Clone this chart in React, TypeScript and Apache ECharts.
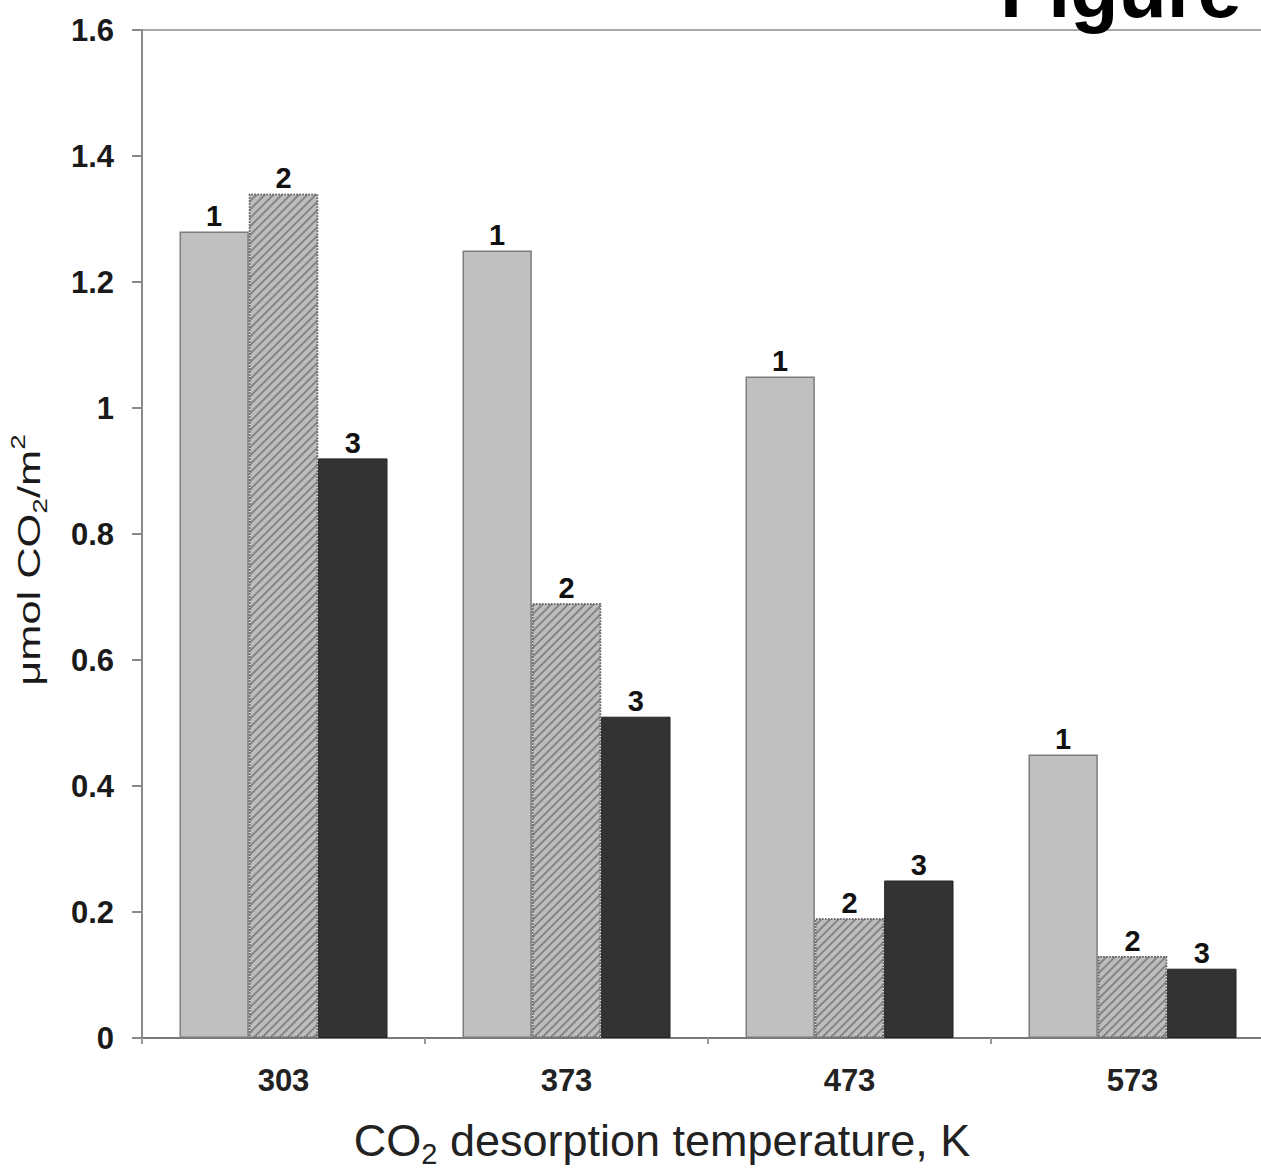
import React, { useEffect, useRef } from "react";
import * as echarts from "echarts";

const categories = ["303", "373", "473", "573"];
const series1 = [1.28, 1.25, 1.05, 0.45];
const series2 = [1.34, 0.69, 0.19, 0.13];
const series3 = [0.92, 0.51, 0.25, 0.11];
const seriesNames = ["1", "2", "3"];
const yTicks = { min: 0, max: 1.6, interval: 0.2 };

const FONT = "'Liberation Sans', Arial, Helvetica, sans-serif";

export default function App() {
  const ref = useRef<HTMLDivElement>(null);
  useEffect(() => {
    if (!ref.current) return;
    const chart = echarts.init(ref.current, undefined, { renderer: "svg" });
    const labelCfg = {
      show: true,
      position: "top",
      distance: 1,
      fontFamily: FONT,
      fontWeight: "bold",
      fontSize: 29,
      color: "#111",
    };
    chart.setOption({
      animation: false,
      backgroundColor: "#fff",
      grid: {
        left: 142,
        top: 30,
        width: 1132,
        height: 1008,
        show: true,
        borderColor: "#a8a8a8",
        borderWidth: 2,
        backgroundColor: "transparent",
      },
      xAxis: {
        type: "category",
        data: categories,
        axisLine: { lineStyle: { color: "#7a7a7a", width: 2 } },
        axisTick: { show: true, length: 6, lineStyle: { color: "#999", width: 2 } },
        axisLabel: {
          fontFamily: FONT,
          fontWeight: "bold",
          fontSize: 31,
          color: "#222",
          margin: 27,
        },
        splitLine: { show: false },
      },
      yAxis: {
        type: "value",
        min: yTicks.min,
        max: yTicks.max,
        interval: yTicks.interval,
        axisLine: { show: true, lineStyle: { color: "#8a8a8a", width: 2 } },
        axisTick: { show: true, length: 10, lineStyle: { color: "#8a8a8a", width: 2 } },
        axisLabel: {
          fontFamily: FONT,
          fontWeight: "bold",
          fontSize: 31,
          color: "#1a1a1a",
          margin: 28,
        },
        splitLine: { show: false },
      },
      series: [
        {
          name: seriesNames[0],
          type: "bar",
          data: series1,
          barGap: "0%",
          barCategoryGap: "26.5%",
          itemStyle: { color: "#c0c0c0", borderColor: "#7d7d7d", borderWidth: 1.5 },
          label: { ...labelCfg, formatter: seriesNames[0] },
        },
        {
          name: seriesNames[1],
          type: "bar",
          data: series2,
          barGap: "0%",
          barCategoryGap: "26.5%",
          itemStyle: {
            color: "#bdbdbd",
            borderColor: "#6a6a6a",
            borderWidth: 1.5,
            borderType: "dotted",
            decal: {
              symbol: "rect",
              symbolSize: 1,
              dashArrayX: [1, 0],
              dashArrayY: [2, 3.5],
              rotation: -Math.PI / 4,
              color: "rgba(95,95,95,0.6)",
            },
          },
          label: { ...labelCfg, formatter: seriesNames[1] },
        },
        {
          name: seriesNames[2],
          type: "bar",
          data: series3,
          barGap: "0%",
          barCategoryGap: "26.5%",
          itemStyle: { color: "#333333", borderColor: "#222", borderWidth: 1 },
          label: { ...labelCfg, formatter: seriesNames[2] },
        },
      ],
      graphic: [
        {
          type: "text",
          x: 29,
          y: 560,
          rotation: Math.PI / 2,
          scaleX: 1.4,
          style: {
            text: "{a|μmol CO}{sub|2}{a|/m}{sup|2}",
            align: "center",
            verticalAlign: "middle",
            fill: "#1a1a1a",
            rich: {
              a: { fontFamily: FONT, fontSize: 31, lineHeight: 42, verticalAlign: "middle", fill: "#1a1a1a" },
              sub: { fontFamily: FONT, fontSize: 20, lineHeight: 20, verticalAlign: "bottom", fill: "#1a1a1a" },
              sup: { fontFamily: FONT, fontSize: 20, lineHeight: 24, verticalAlign: "top", fill: "#1a1a1a" },
            },
          },
        },
        {
          type: "text",
          x: 662,
          y: 1140,
          style: {
            text: "{a|CO}{sub|2}{a| desorption temperature, K}",
            align: "center",
            verticalAlign: "middle",
            fill: "#222",
            rich: {
              a: { fontFamily: FONT, fontSize: 45, lineHeight: 56, verticalAlign: "middle", fill: "#222" },
              sub: { fontFamily: FONT, fontSize: 29, lineHeight: 28, verticalAlign: "bottom", fill: "#222" },
            },
          },
        },
        {
          type: "text",
          x: 1000,
          y: 29,
          style: {
            text: "Figure",
            fontFamily: FONT,
            fontWeight: "bold",
            fontSize: 79,
            fill: "#000",
            align: "left",
            verticalAlign: "bottom",
          },
        },
      ],
    });
    return () => chart.dispose();
  }, []);
  return (
    <div
      ref={ref}
      style={{ position: "absolute", left: 0, top: 0, width: 1290, height: 1175 }}
    />
  );
}
